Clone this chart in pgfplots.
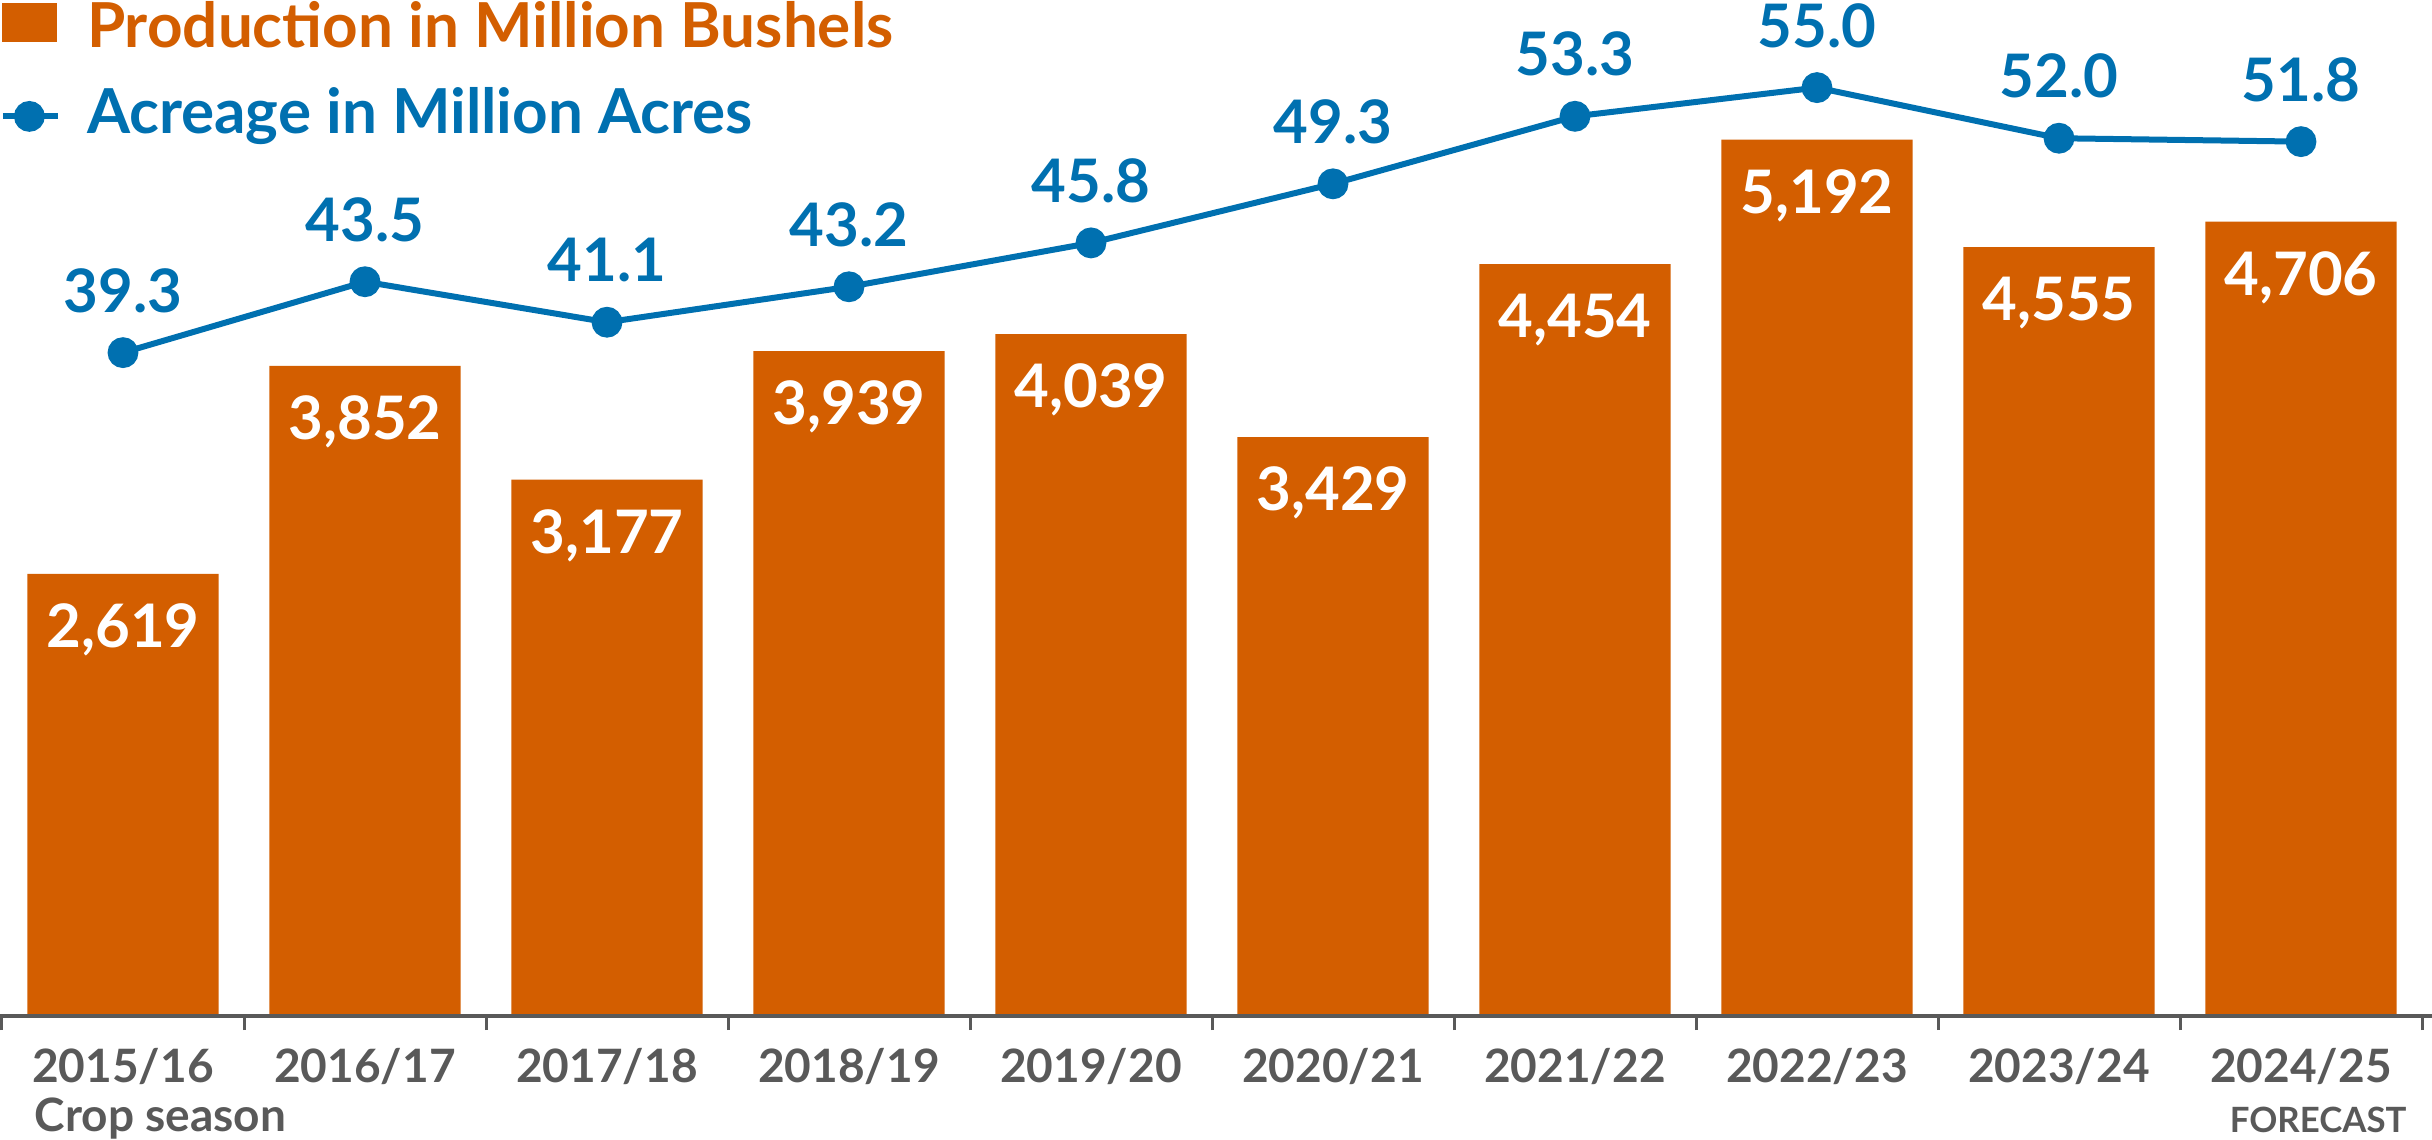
\documentclass[border=0pt]{standalone}
\usepackage{pgfplots}
\pgfplotsset{compat=1.18}
\usepackage{fontspec}
\setmainfont{Lato}
\definecolor{orangeC}{RGB}{211,94,0}
\definecolor{blueC}{RGB}{0,112,176}
\definecolor{grayC}{RGB}{89,89,89}
\begin{document}
\begin{tikzpicture}
\begin{axis}[
  at={(0.5pt,30.75pt)}, anchor=south west,
  scale only axis, width=605pt, height=254pt,
  xmin=-0.5, xmax=9.5, ymin=0, ymax=6019,
  axis y line=none, axis x line*=bottom,
  x axis line style={grayC, line width=1pt, shorten <=-0.5pt, shorten >=-2.5pt, -},
  xtick={0,...,9},
  xticklabels={2015/16,2016/17,2017/18,2018/19,2019/20,2020/21,2021/22,2022/23,2023/24,2024/25},
  major tick length=0pt,
  minor xtick={-0.5,0.5,...,9.5},
  minor tick length=3.5pt,
  tick align=outside,
  minor tick style={grayC, line width=0.75pt},
  xticklabel style={font=\fontsize{11.5}{12}\selectfont\bfseries, text=grayC, anchor=base, yshift=-16.5pt},
  ybar, bar width=0.79,
  nodes near coords, point meta=explicit symbolic,
  every node near coord/.append style={font=\fontsize{15}{16}\selectfont\bfseries, text=white, anchor=center, yshift=-14pt},
  axis on top, clip=false,
]
\addplot[fill=orangeC, draw=none] coordinates {
(0,2619)[2,619] (1,3852)[3,852] (2,3177)[3,177] (3,3939)[3,939] (4,4039)[4,039]
(5,3429)[3,429] (6,4454)[4,454] (7,5192)[5,192] (8,4555)[4,555] (9,4706)[4,706]};
\end{axis}
\begin{axis}[
  at={(0.5pt,30.75pt)}, anchor=south west,
  scale only axis, width=605pt, height=254pt,
  xmin=-0.5, xmax=9.5, ymin=0, ymax=60.19,
  hide axis, clip=false,
  nodes near coords, point meta=explicit symbolic,
  every node near coord/.append style={font=\fontsize{15}{16}\selectfont\bfseries, text=blueC, anchor=center, yshift=15.5pt},
  legend cell align=left,
  legend style={at={(axis description cs:0,1)}, anchor=north west, xshift=-0.5pt,
    draw=none, fill=none, inner sep=0pt, outer sep=0pt, row sep=6.9pt, column sep=6.5pt,
    nodes={inner sep=0pt, text height=11.8pt, text depth=3pt, font=\fontsize{15.5}{17}\selectfont\bfseries}},
]
\addlegendimage{legend image code/.code={\fill[orangeC] (0pt,-2.9pt) rectangle (13.25pt,6.35pt);}}
\addlegendentry{\textcolor{orangeC}{Production in Million Bushels}}
\addplot[blueC, line width=1.5pt, mark=*, mark size=3.1pt, mark options={fill=blueC, draw=blueC},
  legend image code/.code={\draw[mark repeat=2,mark phase=2] plot coordinates {(0pt,0pt) (6.6pt,0pt) (13.75pt,0pt)};}]
coordinates {
(0,39.3)[39.3] (1,43.5)[43.5] (2,41.1)[41.1] (3,43.2)[43.2] (4,45.8)[45.8]
(5,49.3)[49.3] (6,53.3)[53.3] (7,55.0)[55.0] (8,52.0)[52.0] (9,51.8)[51.8]};
\addlegendentry{\textcolor{blueC}{Acreage in Million Acres}}
\end{axis}
\node[anchor=base west, text=grayC, font=\fontsize{11.5}{12}\selectfont\bfseries, inner sep=0pt] at (8.5pt,2pt) {Crop season};
\node[anchor=base west, text=grayC, font=\fontsize{8.7}{10}\selectfont\bfseries, inner sep=0pt] at (557.25pt,1.75pt) {FORECAST};
\pgfresetboundingbox
\path[use as bounding box] (0,0) rectangle (608pt,284.75pt);
\end{tikzpicture}
\end{document}
